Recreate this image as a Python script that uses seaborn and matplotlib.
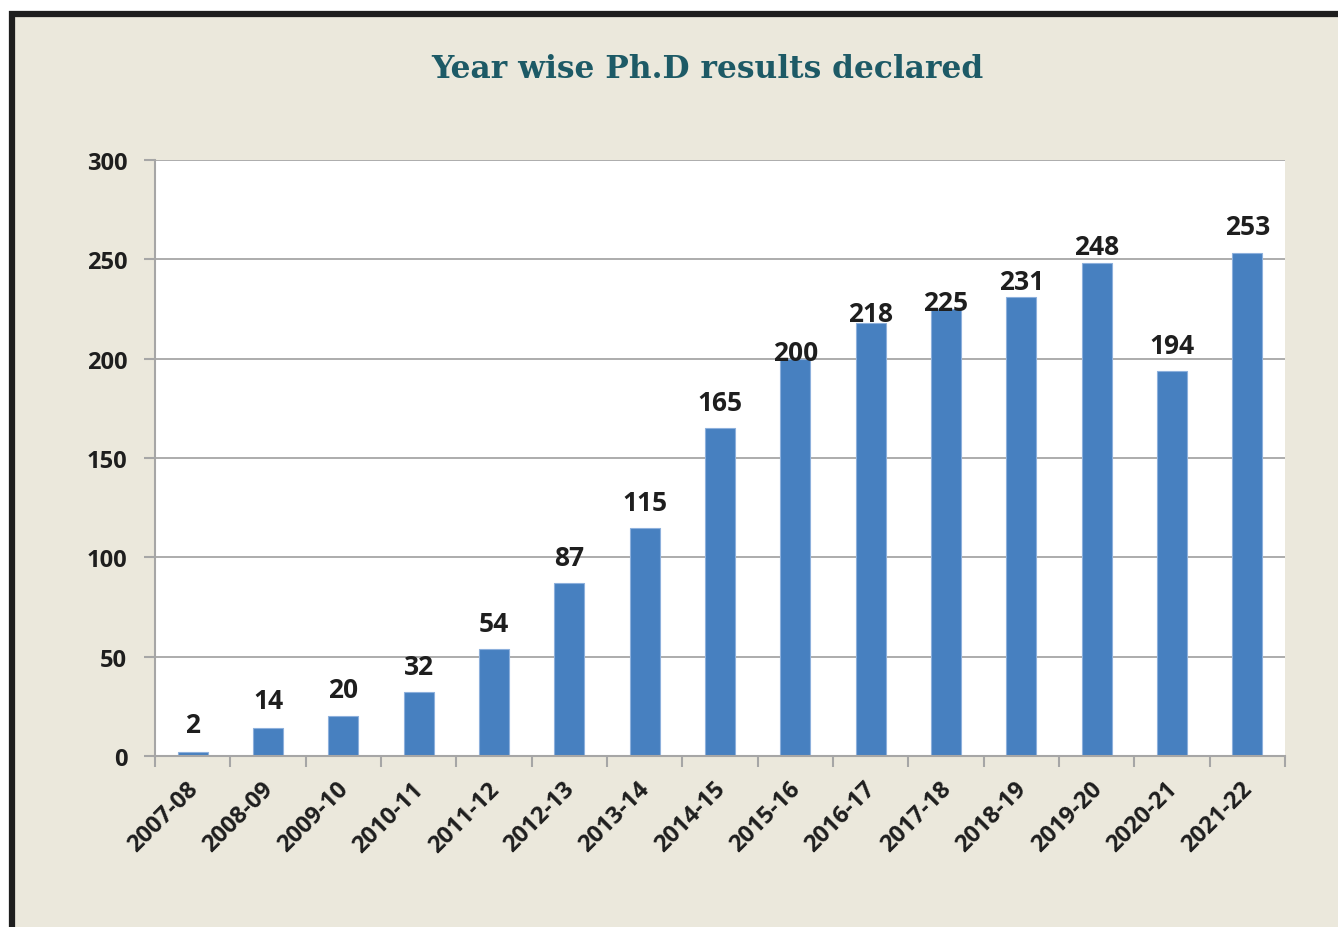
import matplotlib
matplotlib.use("Agg")
import matplotlib.pyplot as plt
import matplotlib.transforms as mtrans
from matplotlib.patches import Rectangle
from matplotlib.ticker import FixedLocator, MultipleLocator
import seaborn as sns
import pandas as pd

# Academic years and number of Ph.D results declared in each
years = ["2007-08", "2008-09", "2009-10", "2010-11", "2011-12", "2012-13",
         "2013-14", "2014-15", "2015-16", "2016-17", "2017-18", "2018-19",
         "2019-20", "2020-21", "2021-22"]
results = [2, 14, 20, 32, 54, 87, 115, 165, 200, 218, 225, 231, 248, 194, 253]

# Vertical gap (pixels) between each bar top and its value label
label_gap_px = [20, 20, 19, 18, 18, 18, 18, 18, -1, 2, -1, 8, 9, 18, 19]

title = "Year wise Ph.D results declared"

df = pd.DataFrame({"year": years, "results": results})

sns.set_theme(style="white")
plt.rcParams["font.family"] = ["Open Sans", "DejaVu Sans"]

W, H, DPI = 1338, 928, 100
fig = plt.figure(figsize=(W / DPI, H / DPI), dpi=DPI)
fig.patch.set_facecolor("white")

# Beige panel with a heavy dark frame on the left and top
panel = Rectangle((12 / W, -0.05), 1.1, 1 - 15 / H + 0.05,
                  transform=fig.transFigure, facecolor="#EBE8DC",
                  edgecolor="#1E1E1E", linewidth=4.5, zorder=-10)
fig.patches.append(panel)

ax = fig.add_axes([155 / W, 1 - 757 / H, (1285 - 155) / W, (757 - 161) / H])
ax.set_zorder(1)
ax.set_facecolor("white")

sns.barplot(data=df, x="year", y="results", ax=ax, color="#4780C0",
            width=0.4, edgecolor="#8DB0DC", linewidth=0.8, saturation=1)

ax.set_ylim(0, 300)
ax.set_xlim(-0.5, len(years) - 0.5)
ax.yaxis.set_major_locator(MultipleLocator(50))
ax.grid(axis="y", color="#A6A6A6", linewidth=1.3)
ax.set_axisbelow(True)
ax.set_xlabel("")
ax.set_ylabel("")

for side in ("top", "right"):
    ax.spines[side].set_visible(False)
for side in ("left", "bottom"):
    ax.spines[side].set_color("#A6A6A6")
    ax.spines[side].set_linewidth(1.5)

# Tick marks sit between categories; labels sit under the bars
ax.xaxis.set_minor_locator(FixedLocator([i - 0.5 for i in range(len(years) + 1)]))
ax.tick_params(axis="x", which="major", length=0, pad=15)
ax.tick_params(axis="x", which="minor", length=8, width=1.5, color="#A6A6A6",
               direction="out", bottom=True)
ax.tick_params(axis="y", length=8, width=1.5, color="#A6A6A6",
               direction="out", left=True, pad=12)

# Shift rotated year labels so their ends sit under each bar
offset = mtrans.ScaledTranslation(-7 / DPI, 0, fig.dpi_scale_trans)
for lab in ax.get_xticklabels():
    lab.set_rotation(45)
    lab.set_ha("right")
    lab.set_va("top")
    lab.set_rotation_mode("anchor")
    lab.set_fontsize(17)
    lab.set_fontweight("bold")
    lab.set_color("#1E1E1E")
    lab.set_transform(lab.get_transform() + offset)
for lab in ax.get_yticklabels():
    lab.set_fontsize(17)
    lab.set_fontweight("bold")
    lab.set_color("#1E1E1E")

# Value labels above bars
for i, (v, gap) in enumerate(zip(results, label_gap_px)):
    ax.annotate(str(v), xy=(i, v), xytext=(0, gap * 72 / DPI),
                textcoords="offset points", ha="center", va="baseline",
                fontsize=19, fontweight="bold", color="#1E1E1E",
                annotation_clip=False)

fig.text(707 / W, 1 - 70 / H, title, ha="center", va="center",
         fontsize=22.5, fontweight="bold", color="#1D5A66", family="DejaVu Serif")

fig.savefig("out.png", dpi=DPI, facecolor=fig.get_facecolor())
